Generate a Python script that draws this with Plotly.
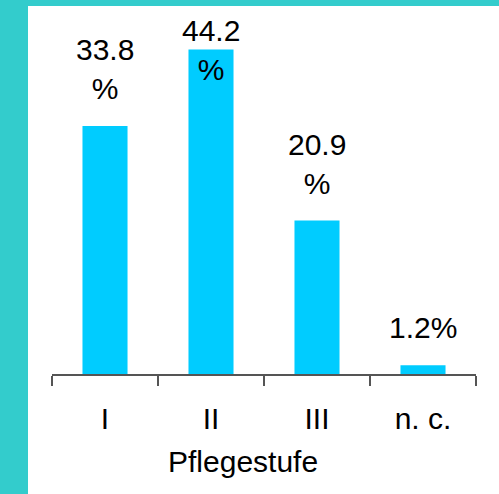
import plotly.graph_objects as go

categories = ["I", "II", "III", "n. c."]
values = [33.8, 44.2, 20.9, 1.2]
label_texts = ["33.8<br>%", "44.2<br>%", "20.9<br>%", "1.2%"]
label_pinned_top = [False, True, False, False]
axis_title = "Pflegestufe"

W, H = 499, 494
ML, MR, MT, MB = 52, 23, 7, 120
PW, PH = W - ML - MR, H - MT - MB

def px_x(p):
    return (p - ML) / PW

def px_y(p):
    return (H - MB - p) / PH

TEAL = "#33CCCC"
BAR = "#00CCFF"
FONT = "Liberation Sans, Arial, sans-serif"
FS = 30

fig = go.Figure(go.Bar(
    x=categories, y=values, width=0.425,
    marker=dict(color=BAR, line=dict(width=0)),
    hoverinfo="skip",
))

annotations = []
for c, v, t, pin in zip(categories, values, label_texts, label_pinned_top):
    if pin:
        annotations.append(dict(x=c, xref="x", y=1, yref="paper", yanchor="top",
                                text=t, showarrow=False, yshift=-5,
                                font=dict(size=FS, color="black", family=FONT)))
    else:
        annotations.append(dict(x=c, xref="x", y=v, yref="y", yanchor="bottom",
                                text=t, showarrow=False, yshift=19,
                                font=dict(size=FS, color="black", family=FONT)))

annotations.append(dict(x=px_x(242.5), xref="paper", y=px_y(443), yref="paper",
                        yanchor="top", xanchor="center", text=axis_title, showarrow=False,
                        font=dict(size=FS, color="black", family=FONT)))

shapes = [
    dict(type="rect", xref="paper", yref="paper", x0=px_x(0), x1=px_x(28),
         y0=px_y(H), y1=px_y(0), fillcolor=TEAL, line=dict(width=0), layer="below"),
    dict(type="rect", xref="paper", yref="paper", x0=px_x(0), x1=px_x(W),
         y0=px_y(6), y1=px_y(0), fillcolor=TEAL, line=dict(width=0), layer="below"),
]

fig.update_layout(
    width=W, height=H,
    margin=dict(l=ML, r=MR, t=MT, b=MB, pad=0),
    paper_bgcolor="white", plot_bgcolor="rgba(0,0,0,0)",
    showlegend=False,
    annotations=annotations,
    shapes=shapes,
    font=dict(family=FONT, size=FS, color="black"),
)
fig.update_xaxes(
    type="category", range=[-0.5, 3.5],
    showline=True, linecolor="#555555", linewidth=1.5,
    ticks="outside", tickson="boundaries", ticklen=10, tickcolor="#555555", tickwidth=1.5,
    ticklabelstandoff=17,
    tickfont=dict(size=FS, color="black", family=FONT),
    showgrid=False, zeroline=False,
)
fig.update_yaxes(range=[0, 50], visible=False, showgrid=False, zeroline=False)

fig.write_html("out.html", config={"displayModeBar": False},
               post_script="document.body.style.margin='0';document.body.style.overflow='hidden';")
